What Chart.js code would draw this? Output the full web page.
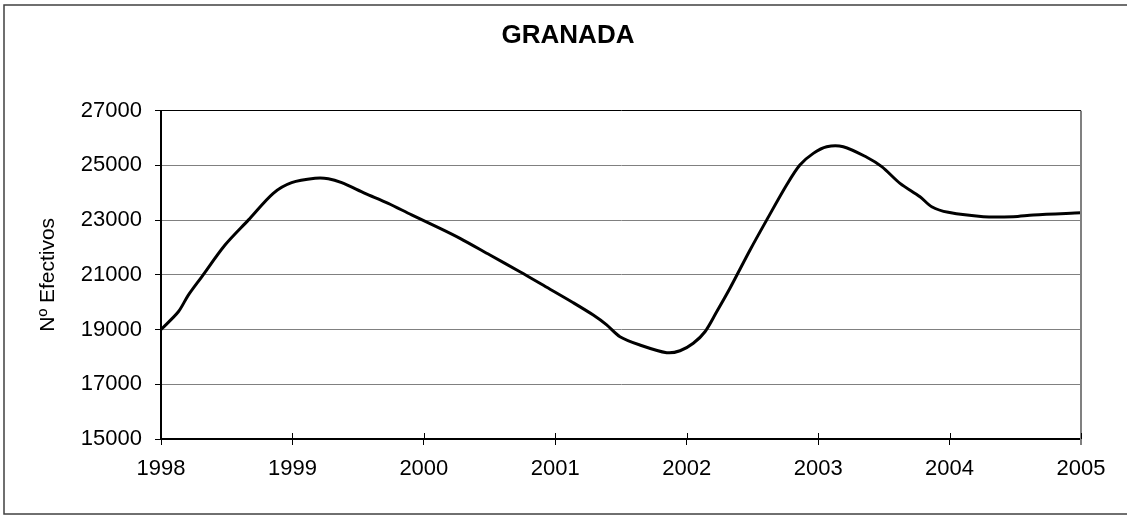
<!DOCTYPE html>
<html>
<head>
<meta charset="utf-8">
<script src="https://cdn.jsdelivr.net/npm/chart.js@4.4.1/dist/chart.umd.min.js"></script>
<style>
  html, body { margin: 0; padding: 0; background: #fff; }
  #wrap { width: 1127px; height: 515px; position: relative; }
</style>
</head>
<body>
<div id="wrap"><canvas id="c" width="1127" height="515"></canvas></div>
<script>
// ---- data ----
const chartTitle = 'GRANADA';
const yAxisTitle = 'Nº Efectivos';
const years = [
  1998.000, 1998.132, 1998.208, 1998.310, 1998.487, 1998.664, 1998.854, 1998.994,
  1999.172, 1999.273, 1999.375, 1999.552, 1999.729, 1999.907,
  2000.123, 2000.275, 2000.503, 2000.731, 2000.935,
  2001.137, 2001.289, 2001.391, 2001.492, 2001.644, 2001.848, 2001.949,
  2002.050, 2002.139, 2002.228, 2002.329, 2002.481, 2002.608, 2002.760, 2002.861, 2002.963,
  2003.065, 2003.191, 2003.370, 2003.484, 2003.623, 2003.775, 2003.864, 2003.990,
  2004.257, 2004.485, 2004.637, 2005.000
];
const efectivos = [
  19000, 19650, 20260, 20930, 22090, 23000, 23980, 24370,
  24530, 24515, 24370, 23980, 23615, 23190,
  22700, 22335, 21725, 21115, 20545,
  19980, 19530, 19170, 18740, 18435, 18155, 18225,
  18500, 18920, 19650, 20510, 21900, 23000, 24285, 25015, 25440,
  25685, 25685, 25300, 24955, 24345, 23855, 23490, 23285,
  23127, 23127, 23190, 23270
];
const xTickLabels = [1998, 1999, 2000, 2001, 2002, 2003, 2004, 2005];
const yTickLabels = [15000, 17000, 19000, 21000, 23000, 25000, 27000];

const FONT = "'Liberation Sans', Arial, sans-serif";

const points = years.map((x, i) => ({ x: x, y: efectivos[i] }));

const decorPlugin = {
  id: 'decor',
  beforeDraw(chart) {
    const ctx = chart.ctx;
    ctx.save();
    ctx.fillStyle = '#fff';
    ctx.fillRect(0, 0, chart.width, chart.height);
    ctx.strokeStyle = '#404040';
    ctx.lineWidth = 1.5;
    ctx.strokeRect(4, 5, chart.width + 4, chart.height - 6);
    ctx.restore();
  },
  afterDraw(chart) {
    const ctx = chart.ctx;
    const area = chart.chartArea;
    const xs = chart.scales.x;
    ctx.save();
    // plot-area right border
    ctx.strokeStyle = '#808080';
    ctx.lineWidth = 2;
    ctx.beginPath();
    ctx.moveTo(area.right, area.top);
    ctx.lineTo(area.right, area.bottom + 6);
    ctx.stroke();
    // inner half of crossing x tick marks
    ctx.strokeStyle = '#000';
    ctx.lineWidth = 1;
    xTickLabels.forEach(v => {
      const px = Math.round(xs.getPixelForValue(v)) + 0.5;
      ctx.beginPath();
      ctx.moveTo(px, area.bottom);
      ctx.lineTo(px, area.bottom - 6);
      ctx.stroke();
    });
    ctx.restore();
  }
};

new Chart(document.getElementById('c'), {
  type: 'line',
  data: {
    datasets: [{
      data: points,
      borderColor: '#000',
      borderWidth: 3,
      pointRadius: 0,
      fill: false,
      tension: 0.3
    }]
  },
  options: {
    responsive: false,
    animation: false,
    layout: { padding: { left: 9, right: 0, top: 0, bottom: 0 } },
    plugins: {
      legend: { display: false },
      tooltip: { enabled: false },
      title: {
        display: true,
        text: chartTitle,
        color: '#000',
        font: { family: FONT, size: 26, weight: 'bold', lineHeight: 1.2 },
        padding: { top: 20.7, bottom: 58.8 }
      }
    },
    scales: {
      x: {
        type: 'linear',
        min: 1998,
        max: 2005,
        afterBuildTicks(scale) { scale.ticks = xTickLabels.map(v => ({ value: v })); },
        afterFit(scale) { scale.height = 76; scale.paddingRight = 46; },
        ticks: {
          color: '#000',
          font: { family: FONT, size: 22 },
          padding: 11,
          maxRotation: 0,
          autoSkip: false,
          callback: v => String(v)
        },
        grid: { drawOnChartArea: false, drawTicks: true, tickLength: 6, tickColor: '#000', tickWidth: 1 },
        border: { color: '#000', width: 2 }
      },
      y: {
        min: 15000,
        max: 27000,
        afterBuildTicks(scale) { scale.ticks = yTickLabels.map(v => ({ value: v })); },
        afterFit(scale) { scale.width = 152; },
        ticks: {
          color: '#000',
          font: { family: FONT, size: 22 },
          padding: 13,
          callback: v => String(v)
        },
        title: {
          display: true,
          text: yAxisTitle,
          color: '#000',
          font: { family: FONT, size: 21 },
          padding: { top: 26.4, bottom: 0 }
        },
        grid: {
          color: c => (c.tick && c.tick.value === 27000) ? '#000' : '#808080',
          lineWidth: 1,
          tickLength: 6,
          tickColor: '#000'
        },
        border: { color: '#000', width: 2 }
      }
    }
  },
  plugins: [decorPlugin]
});
</script>
</body>
</html>
